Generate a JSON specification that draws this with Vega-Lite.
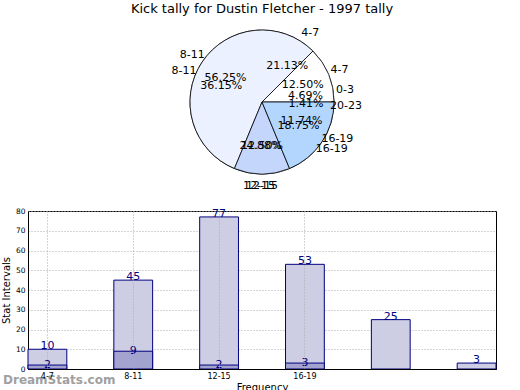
{
  "$schema": "https://vega.github.io/schema/vega-lite/v6.json",
  "padding": {"left": 0, "top": 3, "right": 0, "bottom": 0},
  "background": "white",
  "config": {"font": "DejaVu Sans", "view": {"stroke": null}},
  "datasets": {
    "tally": [
      {"interval": "4-7", "tally": 10, "pieLabel": "0-3", "share": 0.0469, "rank": 1},
      {"interval": "8-11", "tally": 45, "pieLabel": "4-7", "share": 0.2113, "rank": 2},
      {"interval": "12-15", "tally": 77, "pieLabel": "8-11", "share": 0.3615, "rank": 3},
      {"interval": "16-19", "tally": 53, "pieLabel": "12-15", "share": 0.2488, "rank": 4},
      {"interval": "20-23", "tally": 25, "pieLabel": "16-19", "share": 0.1174, "rank": 5},
      {"interval": "0-3", "tally": 3, "pieLabel": "20-23", "share": 0.0141, "rank": 6}
    ],
    "kicks": [
      {"interval": "4-7", "tally": 2, "share": 0.125, "rank": 1},
      {"interval": "8-11", "tally": 9, "share": 0.5625, "rank": 2},
      {"interval": "12-15", "tally": 2, "share": 0.125, "rank": 3},
      {"interval": "16-19", "tally": 3, "share": 0.1875, "rank": 4}
    ]
  },
  "spacing": 15,
  "vconcat": [
    {
      "width": 468,
      "height": 160,
      "title": {"text": "Kick tally for Dustin Fletcher - 1997 tally", "fontSize": 13, "fontWeight": "normal", "offset": 6, "color": "black"},
      "view": {"stroke": null},
      "layer": [
        {
          "data": {"name": "tally"},
          "mark": {"type": "arc", "outerRadius": 72, "fill": "#ebf1fe", "stroke": "black", "strokeWidth": 0.8},
          "encoding": {
            "theta": {"field": "tally", "type": "quantitative", "stack": "normalize", "scale": {"range": [1.5708, -4.7124]}},
            "detail": {"field": "pieLabel", "type": "nominal"},
            "order": {"field": "rank", "type": "quantitative"}
          }
        },
        {
          "data": {"name": "kicks"},
          "mark": {"type": "arc", "outerRadius": 72, "stroke": "black", "strokeWidth": 0.8},
          "encoding": {
            "theta": {"field": "tally", "type": "quantitative", "stack": "normalize", "scale": {"range": [1.5708, -4.7124]}},
            "color": {"field": "interval", "type": "nominal", "scale": {"domain": ["4-7", "8-11", "12-15", "16-19"], "range": ["#ffffff", "#ebf1fe", "#c5d6fd", "#b3d6fe"]}, "legend": null},
            "order": {"field": "rank", "type": "quantitative"}
          }
        },
        {
          "data": {"name": "tally"},
          "mark": {"type": "text", "radius": 84, "fontSize": 11, "fill": "black"},
          "encoding": {
            "theta": {"field": "tally", "type": "quantitative", "stack": "normalize"},
            "detail": {"field": "pieLabel", "type": "nominal"},
            "order": {"field": "rank", "type": "quantitative"},
            "text": {"field": "pieLabel", "type": "nominal"}
          }
        },
        {
          "data": {"name": "tally"},
          "mark": {"type": "text", "radius": 44, "fontSize": 11, "fill": "black"},
          "encoding": {
            "theta": {"field": "tally", "type": "quantitative", "stack": "normalize"},
            "detail": {"field": "pieLabel", "type": "nominal"},
            "order": {"field": "rank", "type": "quantitative"},
            "text": {"field": "share", "type": "quantitative", "format": ".2%"}
          }
        },
        {
          "data": {"name": "kicks"},
          "mark": {"type": "text", "radius": 84, "fontSize": 11, "fill": "black"},
          "encoding": {
            "theta": {"field": "tally", "type": "quantitative", "stack": "normalize"},
            "detail": {"field": "interval", "type": "nominal"},
            "order": {"field": "rank", "type": "quantitative"},
            "text": {"field": "interval", "type": "nominal"}
          }
        },
        {
          "data": {"name": "kicks"},
          "mark": {"type": "text", "radius": 44, "fontSize": 11, "fill": "black"},
          "encoding": {
            "theta": {"field": "tally", "type": "quantitative", "stack": "normalize"},
            "detail": {"field": "interval", "type": "nominal"},
            "order": {"field": "rank", "type": "quantitative"},
            "text": {"field": "share", "type": "quantitative", "format": ".2%"}
          }
        }
      ]
    },
    {
      "width": 468,
      "height": 158,
      "view": {"stroke": "black", "strokeWidth": 1},
      "encoding": {
        "x": {
          "field": "interval",
          "type": "nominal",
          "scale": {"domain": ["4-7", "8-11", "12-15", "16-19", "20-23", "0-3"], "paddingInner": 0.548, "paddingOuter": 0},
          "axis": {
            "labelExpr": "datum.value == '20-23' || datum.value == '0-3' ? '' : datum.value",
            "gridOpacity": {"condition": {"test": "datum.value == '20-23' || datum.value == '0-3'", "value": 0}, "value": 1},
            "labelAngle": 0,
            "labelFontSize": 8,
            "labelColor": "black",
            "labelPadding": 3,
            "labelOverlap": false,
            "tickSize": 0,
            "bandPosition": 0.5,
            "grid": true,
            "gridDash": [1, 2],
            "gridColor": "#aaaaaa",
            "domainColor": "black",
            "zindex": 1,
            "title": "Frequency",
            "titleFontSize": 10,
            "titleFontWeight": "normal",
            "titleColor": "black",
            "titlePadding": 2
          }
        },
        "y": {
          "field": "tally",
          "type": "quantitative",
          "scale": {"domain": [0, 80]},
          "axis": {
            "values": [0, 10, 20, 30, 40, 50, 60, 70, 80],
            "labelFontSize": 7.5,
            "labelColor": "black",
            "labelPadding": 3,
            "tickSize": 0,
            "grid": true,
            "gridDash": [1, 2],
            "gridColor": "#aaaaaa",
            "domainColor": "black",
            "title": "Stat Intervals",
            "titleFontSize": 10,
            "titleFontWeight": "normal",
            "titleColor": "black",
            "titlePadding": 4
          }
        }
      },
      "layer": [
        {
          "data": {"name": "tally"},
          "mark": {"type": "bar", "fill": "#cdcde3", "stroke": "#000080", "strokeWidth": 1}
        },
        {
          "data": {"name": "kicks"},
          "mark": {"type": "bar", "fill": "#a3a3cf", "stroke": "#000080", "strokeWidth": 1}
        },
        {
          "data": {"name": "tally"},
          "mark": {"type": "text", "baseline": "alphabetic", "fontSize": 11, "fill": "#000080"},
          "encoding": {"text": {"field": "tally", "type": "quantitative"}}
        },
        {
          "data": {"name": "kicks"},
          "mark": {"type": "text", "baseline": "middle", "fontSize": 11, "fill": "#000080"},
          "encoding": {"text": {"field": "tally", "type": "quantitative"}}
        },
        {
          "data": {"name": "kicks"},
          "transform": [{"filter": "datum.interval == '4-7'"}],
          "mark": {"type": "text", "text": "DreamStats.com", "align": "left", "baseline": "middle", "dx": -25, "dy": 15, "fontSize": 12, "fontWeight": "bold", "fill": "#a0a0a0", "clip": false},
          "encoding": {
            "x": {"field": "interval", "type": "nominal", "bandPosition": 0}
          }
        }
      ]
    }
  ]
}
